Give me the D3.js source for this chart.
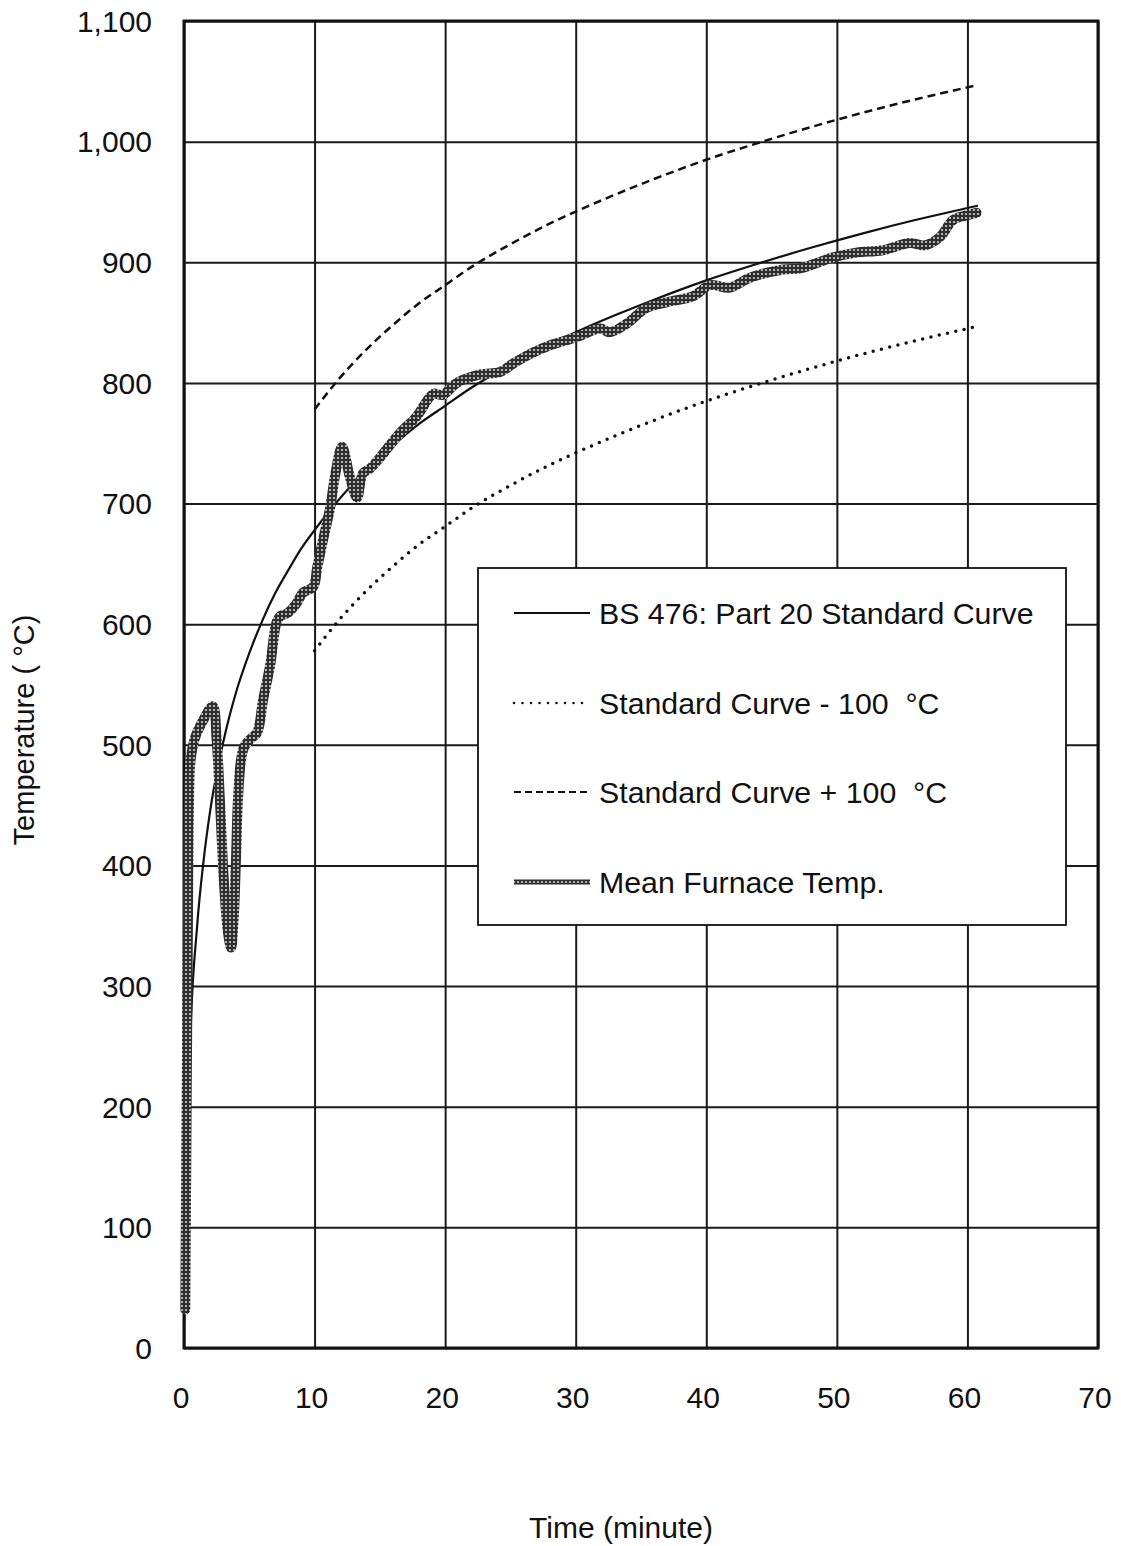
<!DOCTYPE html>
<html>
<head>
<meta charset="utf-8">
<script src="https://cdn.jsdelivr.net/npm/d3@7"></script>
<style>
  body { margin: 0; background: #fff; }
  svg { display: block; font-family: "Liberation Sans", Arial, sans-serif; }
  svg text { white-space: pre; }
</style>
</head>
<body>
<div id="chart"></div>
<script>
// BS 476 standard curve
const stdTime = [0, 0.5, 1, 1.5, 2, 3, 4, 5, 6, 7, 8, 9, 10, 12, 14, 16, 18, 20, 22, 25, 28, 30, 33, 36, 40, 44, 48, 52, 56, 60, 60.8];
const stdTemp = [20, 261, 349, 404, 445, 502, 544, 576, 603, 626, 645, 663, 678, 705, 728, 748, 766, 781, 796, 815, 832, 842, 856, 869, 885, 899, 912, 924, 935, 945, 947];

// tolerance band
const bandTime = [10, 12, 14, 16, 18, 20, 22, 25, 28, 30, 33, 36, 40, 44, 48, 52, 56, 60, 60.8];
const plusTemp = [778, 805, 828, 848, 866, 881, 896, 915, 932, 942, 956, 969, 985, 999, 1012, 1024, 1035, 1045, 1047];
const minusTemp = [578, 605, 628, 648, 666, 681, 696, 715, 732, 742, 756, 769, 785, 799, 812, 824, 835, 845, 847];

// mean furnace temperature
const meanTime = [0.1, 0.2, 0.3, 0.38, 0.5, 0.85, 1.45, 2.2, 2.5, 2.75, 3.05, 3.35, 3.6, 3.8, 3.98, 4.13, 4.36, 4.6, 5.1, 5.6,
  6.05, 6.6, 7.1, 7.4, 7.9, 8.6, 9.1, 9.9, 10.2, 10.65, 11.2, 11.6, 12.1, 12.7, 13.25, 13.7, 14.25, 15.0, 16.5, 17.8,
  19.1, 19.8, 20.9, 22.7, 24.2, 25.2, 26.7, 28.0, 30.1, 31.9, 32.6, 33.9, 35.4, 37.0, 39.0, 40.3, 41.8, 43.3, 45.9, 47.2,
  49.7, 51.5, 53.5, 55.6, 56.7, 57.9, 58.9, 60.0, 60.7];
const meanTemp = [32, 200, 350, 450, 487, 506, 520, 532, 504, 454, 388, 346, 332, 355, 405, 454, 487, 498, 505, 510,
  537, 566, 602, 607, 609, 617, 626, 631, 647, 670, 697, 725, 747, 722, 705, 725, 729, 738, 758, 772,
  791, 790, 800, 807, 809, 816, 825, 831, 838, 845, 842, 849, 862, 867, 872, 881, 879, 887, 894, 895,
  904, 908, 910, 916, 914, 921, 935, 939, 941];

const xTicks = [0, 10, 20, 30, 40, 50, 60, 70];
const yTicks = [0, 100, 200, 300, 400, 500, 600, 700, 800, 900, 1000, 1100];
const legendLabels = ["BS 476: Part 20 Standard Curve", "Standard Curve - 100  \u00B0C", "Standard Curve + 100  \u00B0C", "Mean Furnace Temp."];

const width = 1121, height = 1546;
const margin = {top: 21, right: 23, bottom: 198, left: 184};

const svg = d3.select("#chart").append("svg")
  .attr("width", width)
  .attr("height", height);

const defs = svg.append("defs");
const pat = defs.append("pattern")
  .attr("id", "beads")
  .attr("patternUnits", "userSpaceOnUse")
  .attr("width", 4).attr("height", 4);
pat.append("rect").attr("width", 4).attr("height", 4).attr("fill", "#2e2e2e");
pat.append("circle").attr("cx", 2).attr("cy", 2).attr("r", 1.1).attr("fill", "#cfcfcf");

const x = d3.scaleLinear().domain([0, 70]).range([margin.left, width - margin.right]);
const y = d3.scaleLinear().domain([0, 1100]).range([height - margin.bottom, margin.top]);

// grid
svg.append("g")
  .attr("transform", `translate(0,${height - margin.bottom})`)
  .call(d3.axisBottom(x).tickValues(xTicks).tickSize(-(height - margin.bottom - margin.top)).tickFormat(""))
  .call(g => g.select(".domain").remove())
  .call(g => g.selectAll("line").attr("stroke", "#1a1a1a").attr("stroke-width", 2));

svg.append("g")
  .attr("transform", `translate(${margin.left},0)`)
  .call(d3.axisLeft(y).tickValues(yTicks).tickSize(-(width - margin.left - margin.right)).tickFormat(""))
  .call(g => g.select(".domain").remove())
  .call(g => g.selectAll("line").attr("stroke", "#1a1a1a").attr("stroke-width", 2));

// frame
svg.append("rect")
  .attr("x", x(0)).attr("y", y(1100))
  .attr("width", x(70) - x(0)).attr("height", y(0) - y(1100))
  .attr("fill", "none").attr("stroke", "#111").attr("stroke-width", 3);

// tick labels
svg.append("g").selectAll("text")
  .data(xTicks).join("text")
  .attr("x", d => x(d) - 3)
  .attr("y", 1408)
  .attr("text-anchor", "middle")
  .attr("font-size", 30)
  .attr("fill", "#111")
  .text(d => d);

svg.append("g").selectAll("text")
  .data(yTicks).join("text")
  .attr("x", 152)
  .attr("y", d => y(d))
  .attr("dy", "0.36em")
  .attr("text-anchor", "end")
  .attr("font-size", 30)
  .attr("fill", "#111")
  .text(d => d3.format(",")(d));

// axis titles
svg.append("text")
  .attr("x", 621).attr("y", 1538)
  .attr("text-anchor", "middle")
  .attr("font-size", 30)
  .attr("fill", "#111")
  .text("Time (minute)");

svg.append("text")
  .attr("transform", "translate(34,730) rotate(-90)")
  .attr("text-anchor", "middle")
  .attr("font-size", 29)
  .attr("fill", "#111")
  .text("Temperature ( \u00B0C)");

// curves
const line = d3.line()
  .x(d => x(d[0]))
  .y(d => y(d[1]))
  .curve(d3.curveMonotoneX);

const lineRough = d3.line()
  .x(d => x(d[0]))
  .y(d => y(d[1]))
  .curve(d3.curveCatmullRom.alpha(0.5));

svg.append("path")
  .datum(d3.zip(bandTime, plusTemp))
  .attr("d", line)
  .attr("fill", "none")
  .attr("stroke", "#111")
  .attr("stroke-width", 2.5)
  .attr("stroke-dasharray", "8,5");

svg.append("path")
  .datum(d3.zip(bandTime, minusTemp))
  .attr("d", line)
  .attr("fill", "none")
  .attr("stroke", "#111")
  .attr("stroke-width", 3.5)
  .attr("stroke-linecap", "round")
  .attr("stroke-dasharray", "0,8.5");

svg.append("path")
  .datum(d3.zip(stdTime, stdTemp))
  .attr("d", line)
  .attr("fill", "none")
  .attr("stroke", "#111")
  .attr("stroke-width", 2.2);

svg.append("path")
  .datum(d3.zip(meanTime, meanTemp))
  .attr("d", lineRough)
  .attr("fill", "none")
  .attr("stroke", "url(#beads)")
  .attr("stroke-width", 10)
  .attr("stroke-linejoin", "round")
  .attr("stroke-linecap", "round");

// legend
const legend = svg.append("g");
legend.append("rect")
  .attr("x", 478).attr("y", 568)
  .attr("width", 588).attr("height", 357)
  .attr("fill", "#fff")
  .attr("stroke", "#111")
  .attr("stroke-width", 1.8);

const rowY = [613, 703, 792, 882];
const sampleStyle = [
  {w: 2.2, dash: null, stroke: "#111", cap: "butt"},
  {w: 2.6, dash: "0,8.5", stroke: "#111", cap: "round"},
  {w: 2.2, dash: "7,4", stroke: "#111", cap: "butt"},
  {w: 5, dash: null, stroke: "url(#beads)", cap: "butt"}
];

legendLabels.forEach((lab, i) => {
  const s = sampleStyle[i];
  legend.append("line")
    .attr("x1", 514).attr("x2", 590)
    .attr("y1", rowY[i]).attr("y2", rowY[i])
    .attr("stroke", s.stroke)
    .attr("stroke-width", s.w)
    .attr("stroke-linecap", s.cap)
    .attr("stroke-dasharray", s.dash);
  legend.append("text")
    .attr("x", 599).attr("y", rowY[i])
    .attr("dy", "0.36em")
    .attr("font-size", 30.3)
    .attr("fill", "#111")
    .text(lab);
});
</script>
</body>
</html>
